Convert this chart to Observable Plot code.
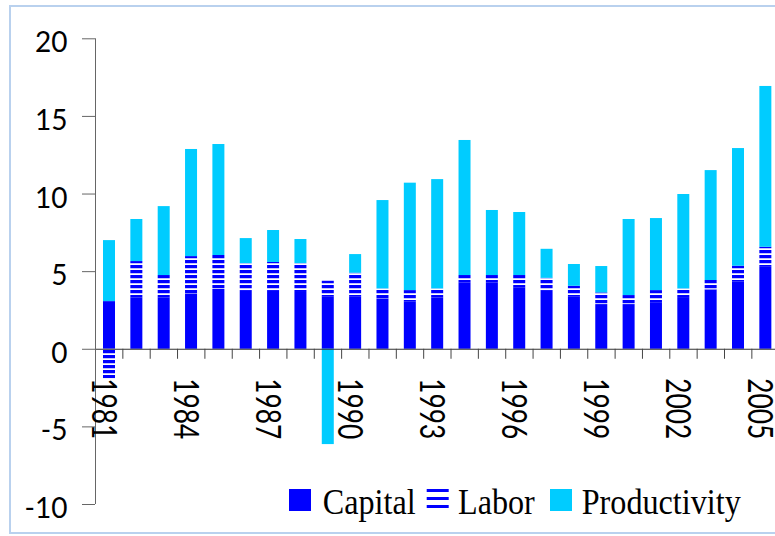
<!DOCTYPE html>
<html>
<head>
<meta charset="utf-8">
<script src="https://cdn.jsdelivr.net/npm/d3@7"></script>
<script src="https://cdn.jsdelivr.net/npm/@observablehq/plot@0.6"></script>
<style>
  html, body { margin: 0; padding: 0; background: #fff; overflow: hidden; }
  #wrap { position: relative; width: 775px; height: 536px; overflow: hidden; }
  #frame { position: absolute; left: 9px; top: 5px; width: 820px; height: 525px; border: 2px solid #b9d1ee; box-sizing: content-box; }
  #chart { position: absolute; left: 0; top: 0; }
  #legend { position: absolute; left: 0; top: 0; pointer-events: none; }
</style>
</head>
<body>
<div id="wrap">
  <div id="frame"></div>
  <div id="chart"></div>
  <svg id="legend" width="775" height="536" xmlns="http://www.w3.org/2000/svg"></svg>
</div>
<script>
const years = [1981,1982,1983,1984,1985,1986,1987,1988,1989,1990,1991,1992,1993,1994,1995,1996,1997,1998,1999,2000,2001,2002,2003,2004,2005];
const capital = [3.07,3.29,3.29,3.57,3.85,3.78,3.78,3.72,3.35,3.35,3.25,3.03,3.31,4.28,4.28,3.93,3.78,3.35,2.88,2.88,2.96,3.33,3.83,4.32,5.28];
const labor = [-1.90,2.36,1.46,2.40,2.19,1.74,1.81,1.80,1.03,1.55,0.64,0.75,0.58,0.47,0.47,0.82,0.79,0.71,0.75,0.58,0.82,0.56,0.60,1.03,1.29];
const productivity = [3.93,2.71,4.44,6.90,7.15,1.61,2.06,1.55,-6.14,1.20,5.69,6.92,7.04,8.70,4.19,4.06,1.87,1.40,1.70,4.90,4.64,6.08,7.08,7.58,10.36];
const seriesNames = ["Capital", "Labor", "Productivity"];
const seriesColors = ["#0000ff", "url(#laborStripes)", "#00ccff"];
const yTicks = [-10, -5, 0, 5, 10, 15, 20];
const labelYears = [1981, 1984, 1987, 1990, 1993, 1996, 1999, 2002, 2005];

const data = years.flatMap((year, i) => [
  {year, series: "Capital", value: capital[i]},
  {year, series: "Labor", value: labor[i]},
  {year, series: "Productivity", value: productivity[i]}
]);
const boundaries = years.concat([years[years.length - 1] + 1]);

const chart = Plot.plot({
  width: 775,
  height: 536,
  marginLeft: 95,
  marginRight: -3.7,
  marginTop: 38.3,
  marginBottom: 32,
  style: {fontFamily: "Lato, 'Liberation Sans', sans-serif", background: "transparent", overflow: "visible"},
  x: {domain: [1981, 2006], axis: null},
  y: {domain: [-10, 20], axis: null},
  color: {domain: seriesNames, range: seriesColors},
  marks: [
    Plot.rectY(data, {x1: "year", x2: d => d.year + 1, y: "value", fill: "series", insetLeft: 8, insetRight: 7.35}),
    Plot.ruleY([0], {stroke: "#333", strokeWidth: 1.2}),
    Plot.ruleX(boundaries, {x: d => d, y1: 0, y2: 0, insetBottom: -10, stroke: "#444"}),
    Plot.ruleX([1981], {y1: -10, y2: 20, stroke: "#666"}),
    Plot.ruleY(yTicks, {y: d => d, x1: 1981, x2: 1981, insetLeft: -13, stroke: "#666"}),
    Plot.text(yTicks, {x: 1981, y: d => d, text: d => String(d), textAnchor: "end", dx: -28, dy: 4.5, fontSize: 28, fill: "#000"}),
    Plot.text(labelYears, {x: d => d + 0.5, y: 0, text: d => String(d), rotate: 90, textAnchor: "start", dy: 29, dx: -6.3, fontSize: 35, fill: "#000"})
  ]
});

const ns = "http://www.w3.org/2000/svg";
const defs = document.createElementNS(ns, "defs");
defs.innerHTML = '<pattern id="laborStripes" patternUnits="userSpaceOnUse" width="10" height="5"><rect width="10" height="5" fill="#ffffff"/><rect width="10" height="3" fill="#0000ff"/><rect y="3" width="10" height="0.6" fill="#9a9aff"/></pattern>';
chart.insertBefore(defs, chart.firstChild);
// condense the rotated year labels along their reading direction
chart.querySelectorAll('g[aria-label="text"] text').forEach(t => {
  const tr = t.getAttribute("transform") || "";
  if (tr.includes("rotate")) t.setAttribute("transform", tr + " scale(0.75,1)");
});
document.getElementById("chart").appendChild(chart);

// legend overlay
const legend = document.getElementById("legend");
const legendX = [289, 426.7, 550];
const textX = [322.7, 458, 581.7];
let html = '<defs><pattern id="legStripes" patternUnits="userSpaceOnUse" x="0" y="489" width="22" height="8"><rect width="22" height="3" fill="#0000ff"/></pattern></defs>';
seriesNames.forEach((name, i) => {
  const fill = name === "Labor" ? "url(#legStripes)" : seriesColors[i];
  html += `<rect x="${legendX[i]}" y="489" width="22" height="22" fill="${fill}"/>`;
  html += `<text transform="translate(${textX[i]},514) scale(0.92,1)" font-family="Liberation Serif, DejaVu Serif, serif" font-size="35" fill="#000">${name}</text>`;
});
legend.innerHTML = html;
</script>
</body>
</html>
